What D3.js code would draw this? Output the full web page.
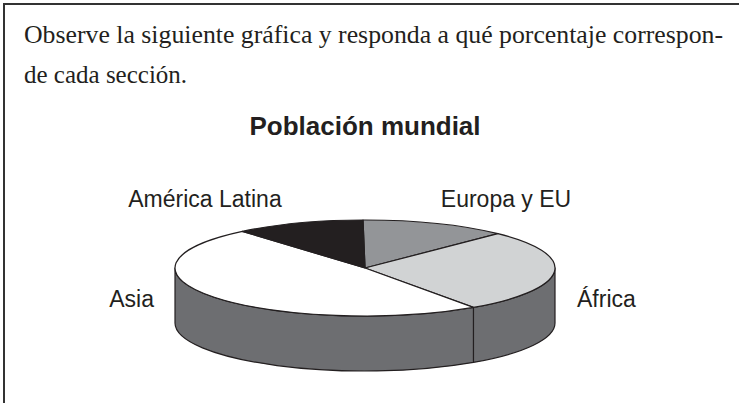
<!DOCTYPE html>
<html lang="es">
	<head>
		<meta charset="utf-8">
		<title>Población mundial</title>
		<script type="text/javascript" src="https://cdn.jsdelivr.net/npm/d3@7"></script>
		<style type="text/css">
			body { margin: 0; background: #fff; }
			svg { display: block; }
		</style>
	</head>
	<body>
		<script type="text/javascript">
			var w = 739;
			var h = 403;

			// data
			var categories = ["Europa y EU", "África", "Asia", "América Latina"];
			var values = [12.5, 28, 48.5, 11];
			var colors = ["#939598", "#d1d3d4", "#ffffff", "#231f20"];
			var questionLines = ["Observe la siguiente gráfica y responda a qué porcentaje correspon-",
								 "de cada sección."];
			var title = "Población mundial";

			// label placement (x, baseline, anchor)
			var labelPos = {
				"América Latina": [205, 207, "middle"],
				"Europa y EU": [506, 207, "middle"],
				"Asia": [154, 307, "end"],
				"África": [577, 307, "start"]
			};

			var cx = 365, cy = 268, rx = 190, ry = 48, depth = 55;
			var startDeg = -0.6;
			var ink = "#231f20";

			var svg = d3.select("body")
						.append("svg")
						.attr("width", w)
						.attr("height", h);

			//frame (right and bottom edges are cut off)
			svg.append("rect")
				.attr("x", 4)
				.attr("y", 4)
				.attr("width", w + 20)
				.attr("height", h + 20)
				.attr("fill", "none")
				.attr("stroke", "#333")
				.attr("stroke-width", 2);

			//question text
			svg.selectAll("text.q")
				.data(questionLines)
				.enter()
				.append("text")
				.attr("class", "q")
				.attr("x", 24)
				.attr("y", function(d, i) { return 43 + i * 40; })
				.attr("font-family", "'Liberation Serif', 'Times New Roman', serif")
				.attr("font-size", "25px")
				.attr("fill", ink)
				.attr("textLength", function(d, i) { return i === 0 ? 699 : null; })
				.attr("lengthAdjust", "spacingAndGlyphs")
				.text(function(d) { return d; });

			svg.append("text")
				.attr("x", cx)
				.attr("y", 135)
				.attr("text-anchor", "middle")
				.attr("font-family", "'Liberation Sans', Arial, sans-serif")
				.attr("font-weight", "bold")
				.attr("font-size", "26px")
				.attr("fill", ink)
				.text(title);

			var start = startDeg * Math.PI / 180;
			var pie = d3.pie()
						.sort(null)
						.startAngle(start)
						.endAngle(start + 2 * Math.PI);
			var arcs = pie(values);

			function pt(a, dy) {
				return [cx + rx * Math.sin(a), cy - ry * Math.cos(a) + (dy || 0)];
			}

			//side walls (front half only: angles PI/2 .. 3PI/2)
			arcs.forEach(function(d) {
				var a0 = Math.max(d.startAngle, Math.PI / 2);
				var a1 = Math.min(d.endAngle, 3 * Math.PI / 2);
				if (a1 <= a0) return;
				var p0 = pt(a0), p1 = pt(a1), q1 = pt(a1, depth), q0 = pt(a0, depth);
				var path = "M" + p0 + " A" + rx + "," + ry + " 0 0 1 " + p1 +
						   " L" + q1 + " A" + rx + "," + ry + " 0 0 0 " + q0 + " Z";
				svg.append("path")
					.attr("d", path)
					.attr("fill", "#6d6e71")
					.attr("stroke", ink)
					.attr("stroke-width", 1.2)
					.attr("stroke-linejoin", "round");
			});

			//top slices
			svg.selectAll("path.slice")
				.data(arcs)
				.enter()
				.append("path")
				.attr("class", "slice")
				.attr("d", function(d) {
					var p0 = pt(d.startAngle), p1 = pt(d.endAngle);
					var large = (d.endAngle - d.startAngle) > Math.PI ? 1 : 0;
					return "M" + cx + "," + cy + " L" + p0 + " A" + rx + "," + ry +
						   " 0 " + large + " 1 " + p1 + " Z";
				})
				.attr("fill", function(d, i) { return colors[i]; })
				.attr("stroke", ink)
				.attr("stroke-width", 1.2)
				.attr("stroke-linejoin", "round");

			//labels
			svg.selectAll("text.lbl")
				.data(categories)
				.enter()
				.append("text")
				.attr("class", "lbl")
				.attr("x", function(d) { return labelPos[d][0]; })
				.attr("y", function(d) { return labelPos[d][1]; })
				.attr("text-anchor", function(d) { return labelPos[d][2]; })
				.attr("font-family", "'Liberation Sans', Arial, sans-serif")
				.attr("font-size", "23px")
				.attr("fill", ink)
				.text(function(d) { return d; });
		</script>
	</body>
</html>
